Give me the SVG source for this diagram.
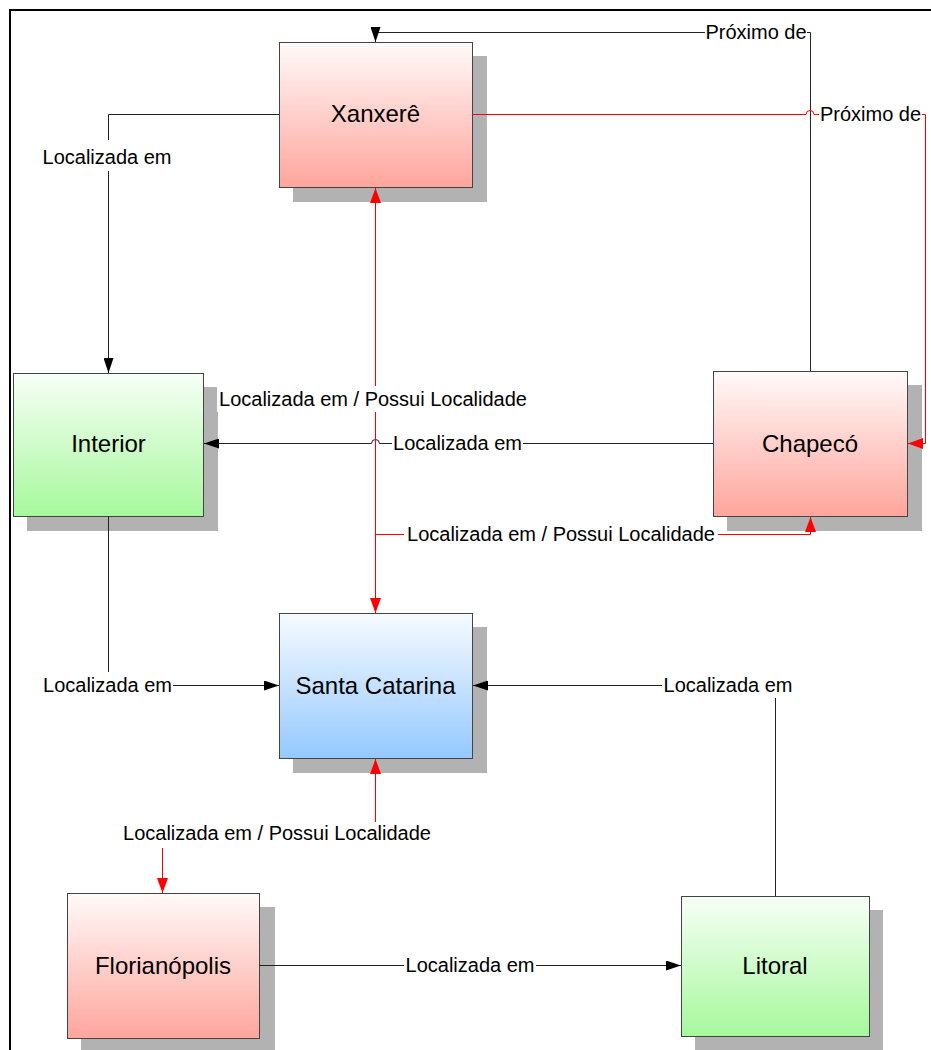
<svg xmlns="http://www.w3.org/2000/svg" width="931" height="1050" viewBox="0 0 931 1050">
<defs>
<linearGradient id="gRed" x1="0" y1="0" x2="0" y2="1">
<stop offset="0" stop-color="#fffafa"/><stop offset="1" stop-color="#ffa59c"/>
</linearGradient>
<linearGradient id="gGreen" x1="0" y1="0" x2="0" y2="1">
<stop offset="0" stop-color="#f7fff7"/><stop offset="1" stop-color="#a6f89c"/>
</linearGradient>
<linearGradient id="gBlue" x1="0" y1="0" x2="0" y2="1">
<stop offset="0" stop-color="#f7fbff"/><stop offset="1" stop-color="#94c8ff"/>
</linearGradient>
<marker id="aB" markerUnits="userSpaceOnUse" markerWidth="15" markerHeight="10" refX="15" refY="5" orient="auto-start-reverse" viewBox="0 0 15 10">
<path d="M0,0 L15,5 L0,10 z" fill="#000"/>
</marker>
<marker id="aR" markerUnits="userSpaceOnUse" markerWidth="15" markerHeight="11" refX="15" refY="5.5" orient="auto-start-reverse" viewBox="0 0 15 11">
<path d="M0,0 L15,5.5 L0,11 z" fill="#ff0000"/>
</marker>
</defs>
<style>
.shadow{fill:#b2b2b2}
.box{stroke:#444;stroke-width:1}
.ntext{font-family:"Liberation Sans",Arial,sans-serif;font-size:24px;fill:#000;text-anchor:middle}
.ltext{font-family:"Liberation Sans",Arial,sans-serif;font-size:20px;fill:#000;text-anchor:middle}
.lbg{fill:#fff}
.cb{fill:none;stroke:#222;stroke-width:1}
.cr{fill:none;stroke:#ff0000;stroke-width:1}
.frame{fill:none;stroke:#000;stroke-width:2}
</style>
<rect x="0" y="0" width="931" height="1050" fill="#fff"/>
<path class="frame" d="M10,1050 V10 H931"/>

<g id="node-xanxere">
<rect class="shadow" x="293" y="56" width="194" height="146"/>
<rect class="box" x="279.5" y="42.5" width="193" height="145" fill="url(#gRed)"/>
<text class="ntext" x="375.5" y="122">Xanxerê</text>
</g>
<g id="node-interior">
<rect class="shadow" x="27" y="387" width="191" height="144"/>
<rect class="box" x="13.5" y="373.5" width="190" height="143" fill="url(#gGreen)"/>
<text class="ntext" x="108.5" y="452">Interior</text>
</g>
<g id="node-chapeco">
<rect class="shadow" x="727" y="385" width="195" height="146"/>
<rect class="box" x="713.5" y="371.5" width="194" height="145" fill="url(#gRed)"/>
<text class="ntext" x="810" y="452">Chapecó</text>
</g>
<g id="node-santa-catarina">
<rect class="shadow" x="293" y="627" width="194" height="146"/>
<rect class="box" x="279.5" y="613.5" width="193" height="145" fill="url(#gBlue)"/>
<text class="ntext" x="375.5" y="694">Santa Catarina</text>
</g>
<g id="node-florianopolis">
<rect class="shadow" x="81" y="907" width="194" height="146"/>
<rect class="box" x="67.5" y="893.5" width="192" height="145" fill="url(#gRed)"/>
<text class="ntext" x="163" y="974">Florianópolis</text>
</g>
<g id="node-litoral">
<rect class="shadow" x="695" y="910" width="188" height="143"/>
<rect class="box" x="681.5" y="896.5" width="188" height="140" fill="url(#gGreen)"/>
<text class="ntext" x="775" y="974">Litoral</text>
</g>

<g id="connectors">
<path class="cb" d="M279,114.5 H108.5 V373" marker-end="url(#aB)"/>
<path class="cb" d="M810.5,371 V32.5 H375.5 V42" marker-end="url(#aB)"/>
<path class="cr" d="M472,114.5 H806 a4,4 0 0 1 8,0 H925.5 V443.5 H908" marker-end="url(#aR)"/>
<path class="cb" d="M713,443.5 H379.5 a4,4 0 0 0 -8,0 H204" marker-end="url(#aB)"/>
<path class="cr" d="M375.5,188 V613" marker-start="url(#aR)" marker-end="url(#aR)"/>
<path class="cr" d="M375.5,600 V534.5 H810.5 V517" marker-end="url(#aR)"/>
<path class="cb" d="M108.5,516 V685.5 H279" marker-end="url(#aB)"/>
<path class="cb" d="M775.5,896 V685.5 H473" marker-end="url(#aB)"/>
<path class="cr" d="M375.5,759 V833.5 H162.5 V893" marker-start="url(#aR)" marker-end="url(#aR)"/>
<path class="cb" d="M259,965.5 H681" marker-end="url(#aB)"/>

<rect class="lbg" x="42" y="140" width="130" height="31"/>
<text class="ltext" x="107" y="164">Localizada em</text>
<rect class="lbg" x="705" y="20" width="102" height="25"/>
<text class="ltext" x="756" y="39">Próximo de</text>
<rect class="lbg" x="819" y="102" width="103" height="25"/>
<text class="ltext" x="870.5" y="121">Próximo de</text>
<rect class="lbg" x="217" y="386" width="312" height="26"/>
<text class="ltext" x="373" y="406">Localizada em / Possui Localidade</text>
<rect class="lbg" x="392" y="431" width="131" height="25"/>
<text class="ltext" x="457.5" y="450">Localizada em</text>
<rect class="lbg" x="404" y="522" width="314" height="25"/>
<text class="ltext" x="561" y="541">Localizada em / Possui Localidade</text>
<rect class="lbg" x="42" y="672" width="131" height="28"/>
<text class="ltext" x="107.5" y="692">Localizada em</text>
<rect class="lbg" x="662" y="672" width="132" height="26"/>
<text class="ltext" x="728" y="692">Localizada em</text>
<rect class="lbg" x="120" y="822" width="314" height="26"/>
<text class="ltext" x="277" y="840">Localizada em / Possui Localidade</text>
<rect class="lbg" x="404" y="953" width="132" height="25"/>
<text class="ltext" x="470" y="972">Localizada em</text>
</g>
</svg>
